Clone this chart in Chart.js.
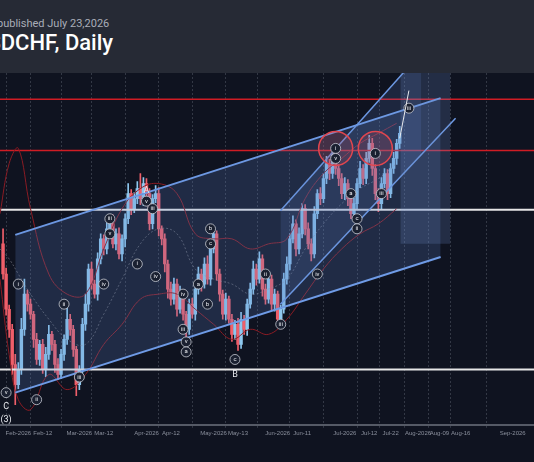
<!DOCTYPE html>
<html><head><meta charset="utf-8">
<script src="https://cdn.jsdelivr.net/npm/chart.js@4"></script>
<style>
body{margin:0;background:#0f1320;width:534px;height:462px;overflow:hidden;font-family:Roboto,sans-serif}
#head{height:73px;background:#262a35;position:relative}
#pub{position:absolute;left:-3px;top:17px;color:#a9adb8;font-size:11px}
#ttl{position:absolute;left:-27px;top:30px;color:#fff;font-size:22px;font-weight:500}
</style></head><body>
<div id="head"><div id="pub">published July 23,2026</div><div id="ttl">USDCHF, Daily</div></div>
<canvas id="c" width="534" height="366"></canvas>
<script>
// trading-day index, 0 = Feb 2 2026
const tickPos = [0, 8, 20, 28, 42, 50, 64, 72, 85, 93, 107, 115, 122, 131, 138, 145, 162];
const tickLabels = ["Feb-2026","Feb-12","Mar-2026","Mar-12","Apr-2026","Apr-12","May-2026","May-13","Jun-2026","Jun-11","Jul-2026","Jul-12","Jul-22","Aug-2026","Aug-09","Aug-16","Sep-2026"];
const firstIdx = -5;
const closes = [
  0.790,0.783,0.779,0.772,0.768,
  0.771,0.779,0.786,0.784,0.782,0.777,
  0.773,0.776,0.771,0.774,0.778,0.776,0.772,0.770,0.774,0.777,0.781,0.779,0.775,0.768,
  0.771,0.780,0.784,0.791,0.788,0.786,0.793,0.797,
  0.795,0.799,0.800,0.796,0.798,0.794,0.797,0.801,0.806,0.803,0.805,0.807,0.805,0.808,0.806,
  0.800,0.805,0.806,0.799,0.797,0.792,0.787,0.785,0.788,0.783,0.786,0.782,0.779,
  0.784,0.782,0.787,0.790,0.788,0.792,0.789,0.795,0.798,
  0.790,0.786,0.782,0.785,0.781,0.778,0.780,0.776,
  0.781,0.779,0.784,0.787,0.791,0.789,0.793,0.787,
  0.785,0.789,0.784,0.786,0.781,0.783,
  0.789,0.792,0.797,0.800,0.795,0.798,0.803,0.799,0.796,0.794,0.802,0.806,0.805,0.809,0.812,0.810,
  0.814,0.811,0.809,0.806,0.808,0.805,0.802,0.804,
  0.808,0.811,0.809,0.813,0.816,0.811,
  0.806,0.804,0.808,0.810,0.806,
  0.811,0.813,0.816,0.818
];
const opens0 = 0.796;
// wick extensions in pips above / below the body
const wickUp = [
  30,12,8,10,20, 14,22,30,8,10,6, 12,8,10,14,18,6,8,12,10,9,24,10,8,6,
  8,12,20,10,14,8,12,10, 8,14,6,18,10,12,8,10,20,8,12,14,30,12,10,
  10,8,16,12,6,10,8,14,12,10,16,8,6, 10,12,8,14,10,12,16,8,12,
  6,10,8,12,6,10,8,12, 14,8,10,12,16,10,14,8, 10,12,8,10,6,8,
  12,14,10,16,8,12,10,8,12,10,14,8,12,10,14,8, 16,12,8,10,12,8,10,12,
  10,14,8,12,16,10, 8,10,12,10,8, 10,12,8,14
];
const wickDn = [
  10,12,16,20,40, 8,10,12,14,10,16, 10,12,8,14,10,12,16,10,8,12,10,12,14,22,
  10,8,12,14,10,8,12,10, 12,10,14,8,12,10,14,16,10,12,8,10,12,14,20,
  12,10,8,14,12,16,18,12,10,14,8,12,16, 10,8,12,10,14,8,10,12,8,
  12,14,10,12,8,14,10,12, 8,10,12,8,10,12,8,14, 10,8,12,14,12,10,
  8,10,12,8,14,10,8,12,10,14,8,10,12,8,10,12, 10,12,14,10,12,14,10,8,
  10,8,12,10,8,14, 12,16,10,8,12, 8,10,12,10
];
// bands sampled every few days
const bandIdx = [-6,-3,0,4,10,16,22,28,34,40,46,52,58,64,70,76,82,88,94,100,106,112,118,124];
const bandUp  = [0.802,0.812,0.815,0.803,0.790,0.786,0.786,0.795,0.803,0.807,0.808,0.806,0.798,0.797,0.797,0.795,0.796,0.797,0.805,0.810,0.813,0.816,0.818,0.820];
const bandMid = [0.795,0.793,0.790,0.786,0.781,0.777,0.776,0.782,0.789,0.796,0.799,0.798,0.791,0.789,0.788,0.786,0.787,0.789,0.795,0.800,0.804,0.807,0.809,0.812];
const bandLo  = [0.789,0.774,0.765,0.763,0.770,0.767,0.770,0.776,0.780,0.785,0.786,0.786,0.783,0.780,0.777,0.779,0.778,0.781,0.786,0.791,0.795,0.798,0.800,0.803];
const redLevels = [0.8248, 0.8146];
const whiteLevels = [0.8028, 0.7710];
const bigChannelUp = [[-1,0.7978],[138.4,0.8250]];
const bigChannelLo = [[-1,0.7664],[138.4,0.7934]];
const smallChannelUp = [[85.9,0.8026],[132,0.8340]];
const smallChannelLo = [[85.9,0.7840],[143.3,0.8210]];
const waveLabels = [
  [-4,0.7664,"v",1],[-4,0.7636,"C",0],[-4,0.7610,"(3)",0],[0,0.7880,"i",1],[6,0.7650,"ii",1],
  [15,0.7840,"ii",1],[20,0.7695,"iii",1],[30,0.8010,"iii",1],[30,0.7980,"v",1],[28,0.7880,"iv",1],
  [42,0.8065,"A",0],[42,0.8045,"v",1],[44,0.8030,"iii",1],[39,0.7920,"i",1],[45,0.7895,"iv",1],
  [54,0.7860,"iv",1],[54,0.7790,"iii",1],[55,0.7765,"v",1],[55,0.7745,"a",1],[63,0.7990,"b",1],
  [63,0.7960,"c",1],[59,0.7880,"a",1],[62,0.7840,"b",1],[71,0.7730,"c",1],[71,0.7700,"B",0],
  [81,0.7900,"ii",1],[86,0.7800,"iii",1],[98,0.7900,"iv",1],[104,0.8150,"i",1],[104,0.8130,"v",1],
  [109,0.8060,"a",1],[111,0.8010,"c",1],[111,0.7990,"ii",1],[117,0.8140,"i",1],[119,0.8060,"iii",1],
  [128,0.8230,"iii",1]
];
const circles = [[104,0.8150],[117,0.8150]];

const up = '#8ec8ef', dn = '#ef5f6a';
const bodies = [], wicks = [], bodyCol = [];
let prev = opens0;
closes.forEach((c, i) => {
  const x = firstIdx + i, o = prev;
  bodies.push({x: x, y: [o, c]});
  wicks.push({x: x, y: [Math.min(o, c) - wickDn[i] / 10000, Math.max(o, c) + wickUp[i] / 10000]});
  bodyCol.push(c >= o ? up : dn);
  prev = c;
});
const pts = a => a.map(p => ({x: p[0], y: p[1]}));
const hline = (v, col, w) => ({type: 'line', data: [{x: -6, y: v}, {x: 169, y: v}], borderColor: col, borderWidth: w, pointRadius: 0});
const band = (arr, col, dash) => ({type: 'line', data: bandIdx.map((x, i) => ({x: x, y: arr[i]})), borderColor: col, borderWidth: 1, borderDash: dash, pointRadius: 0, tension: 0.4});

const overlay = {
  id: 'overlay',
  afterDatasetsDraw(chart) {
    const {ctx, scales: {x, y}} = chart;
    ctx.save();
    ctx.strokeStyle = '#e0464f'; ctx.lineWidth = 1.5; ctx.fillStyle = 'rgba(230,70,80,0.18)';
    circles.forEach(c => { ctx.beginPath(); ctx.arc(x.getPixelForValue(c[0]), y.getPixelForValue(c[1]), 17, 0, 7); ctx.fill(); ctx.stroke(); });
    ctx.textAlign = 'center'; ctx.textBaseline = 'middle';
    waveLabels.forEach(l => {
      const px = x.getPixelForValue(l[0]), py = y.getPixelForValue(l[1]);
      if (l[3]) {
        ctx.beginPath(); ctx.arc(px, py, 5, 0, 7); ctx.fillStyle = '#1a2030'; ctx.fill();
        ctx.strokeStyle = '#c8ccd4'; ctx.lineWidth = 0.8; ctx.stroke();
        ctx.font = '6px Roboto'; ctx.fillStyle = '#e8eaee'; ctx.fillText(l[2], px, py);
      } else {
        ctx.font = '9px Roboto'; ctx.fillStyle = '#e8eaee'; ctx.fillText(l[2], px, py);
      }
    });
    // projection arrow
    ctx.strokeStyle = '#e8eaee'; ctx.lineWidth = 1;
    ctx.beginPath(); ctx.moveTo(x.getPixelForValue(125), y.getPixelForValue(0.8170)); ctx.lineTo(x.getPixelForValue(128), y.getPixelForValue(0.8265)); ctx.stroke();
    ctx.restore();
  }
};

new Chart(document.getElementById('c'), {
  type: 'bar',
  data: {datasets: [
    {type: 'line', data: [{x: 125.2, y: 0.84}, {x: 141.6, y: 0.84}], fill: {value: 0.796}, backgroundColor: 'rgba(110,140,200,0.22)', borderWidth: 0, pointRadius: 0},
    {type: 'line', data: pts(bigChannelLo), fill: '+1', backgroundColor: 'rgba(95,130,200,0.22)', borderColor: '#6f9be6', borderWidth: 2, pointRadius: 0},
    {type: 'line', data: pts(bigChannelUp), borderColor: '#6f9be6', borderWidth: 2, pointRadius: 0},
    {type: 'line', data: pts(smallChannelLo), fill: '+1', backgroundColor: 'rgba(95,130,200,0.18)', borderColor: '#6f9be6', borderWidth: 1.5, pointRadius: 0},
    {type: 'line', data: pts(smallChannelUp), borderColor: '#6f9be6', borderWidth: 1.5, pointRadius: 0},
    band(bandUp, '#8a1c24', []), band(bandMid, 'rgba(150,150,160,0.5)', [2, 2]), band(bandLo, '#8a1c24', []),
    hline(redLevels[0], '#d01c24', 1.5), hline(redLevels[1], '#d01c24', 1.5),
    hline(whiteLevels[0], '#e6e6e6', 2), hline(whiteLevels[1], '#e6e6e6', 2),
    {data: wicks, backgroundColor: bodyCol, barThickness: 1, grouped: false},
    {data: bodies, backgroundColor: bodyCol, barThickness: 2.8, grouped: false, minBarLength: 1}
  ]},
  options: {
    responsive: false, animation: false,
    layout: {padding: 0},
    plugins: {legend: {display: false}, tooltip: {enabled: false}},
    scales: {
      x: {type: 'linear', min: -6, max: 169, offset: false,
        afterBuildTicks: s => { s.ticks = tickPos.map(v => ({value: v})); },
        ticks: {color: '#8a8f9c', font: {size: 6}, autoSkip: false, maxRotation: 0, padding: 2,
          callback: v => tickLabels[tickPos.indexOf(v)]},
        grid: {color: 'rgba(120,125,140,0.35)', tickLength: 3}, border: {color: '#555a66', width: 2, dash: [2, 2]}},
      y: {display: false, min: 0.76, max: 0.83}
    }
  },
  plugins: [overlay]
});
</script>
</body></html>
